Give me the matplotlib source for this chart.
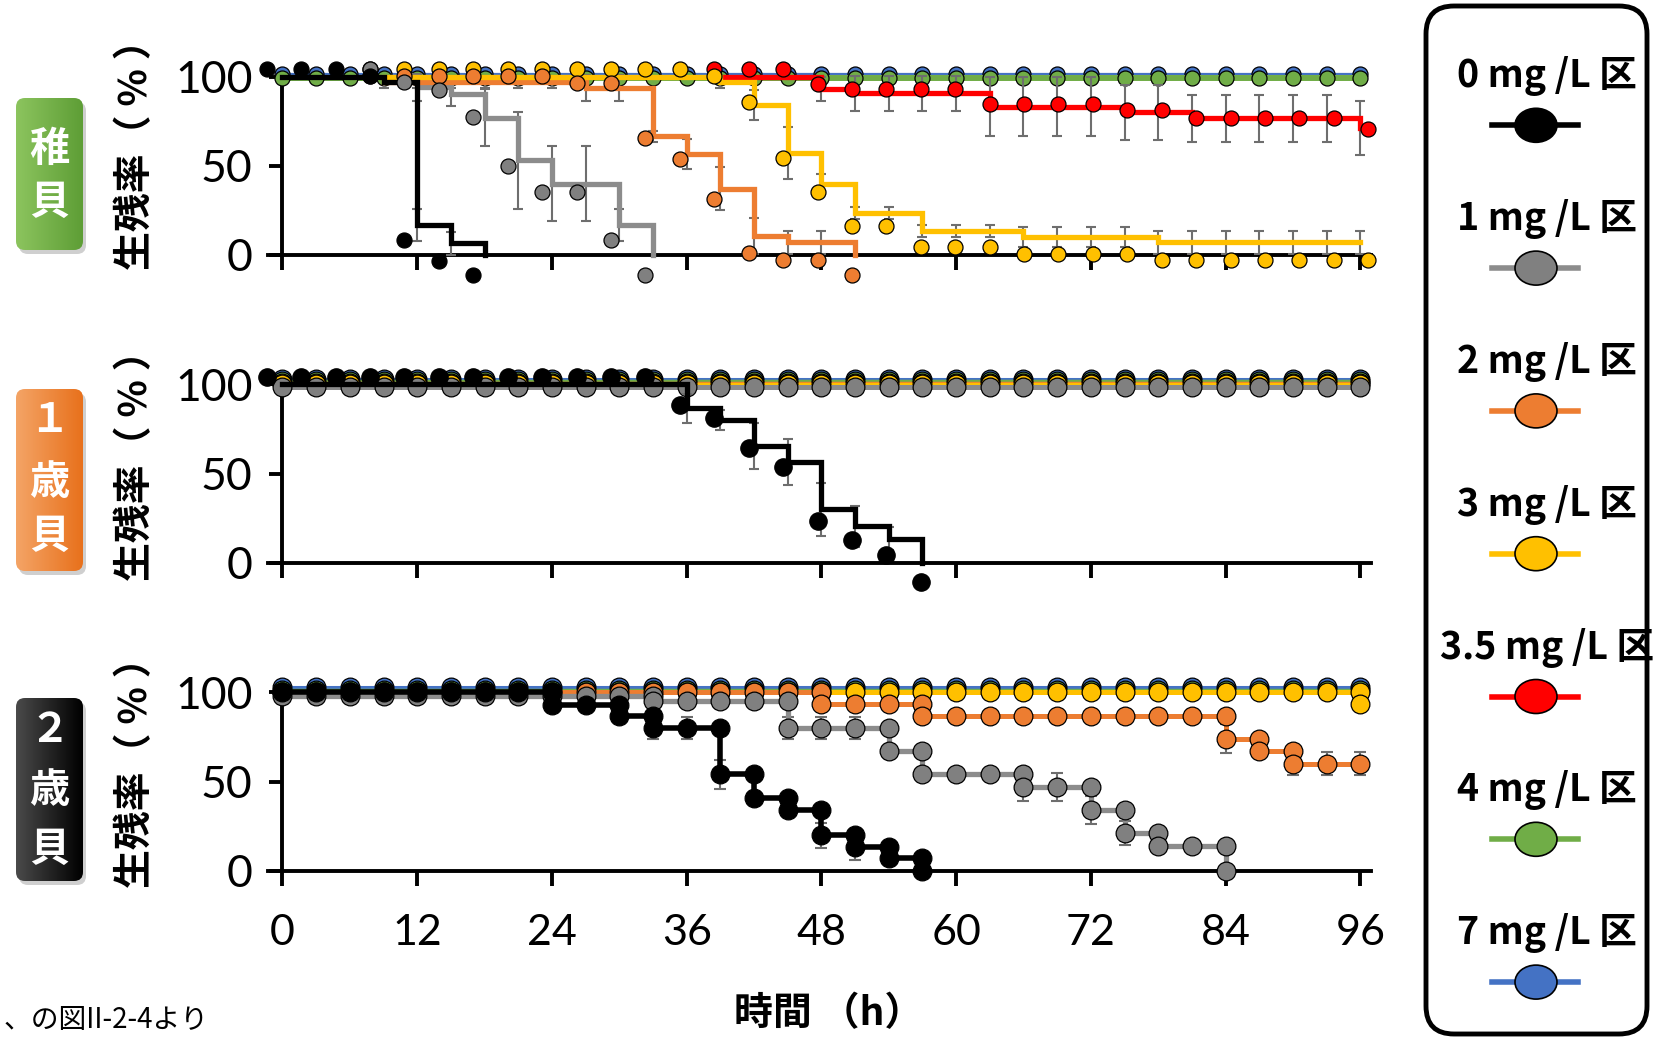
import numpy as np
import matplotlib.pyplot as plt
from matplotlib.patches import FancyBboxPatch, Ellipse
from matplotlib.colors import LinearSegmentedColormap

plt.rcParams['font.family'] = ['Noto Sans CJK JP', 'DejaVu Sans']

W, H = 1665, 1038

# ---------------------------------------------------------------- data
HOURS = [0, 3, 6, 9, 12, 15, 18, 21, 24, 27, 30, 33, 36, 39, 42, 45, 48,
         51, 54, 57, 60, 63, 66, 69, 72, 75, 78, 81, 84, 87, 90, 93, 96]
XTICKS = [0, 12, 24, 36, 48, 60, 72, 84, 96]
YTICKS = [0, 50, 100]

LEGEND_LABELS = ['0 mg /L 区', '1 mg /L 区', '2 mg /L 区', '3 mg /L 区',
                 '3.5 mg /L 区', '4 mg /L 区', '7 mg /L 区']
COLORS = ['#000000', '#808080', '#ED7D31', '#FFC000', '#FF0000', '#70AD47', '#4472C4']
LINE_COLORS = ['#000000', '#8C8C8C', '#ED7D31', '#FFC000', '#FF0000', '#70AD47', '#4472C4']
PANEL_NAMES = [['稚', '貝'], ['１', '歳', '貝'], ['２', '歳', '貝']]

# 稚貝 (step curves, mean survival % and sd)
JUV_0_T = [0, 3, 6, 9, 12, 15, 18]
JUV_0_V = [100, 100, 100, 97, 17, 6.5, 0]
JUV_0_SD = [0, 0, 0, 0, 9, 6.5, 0]
JUV_1_T = [9, 12, 15, 18, 21, 24, 27, 30, 33]
JUV_1_V = [100, 94, 90, 77, 53, 40, 40, 17, 0]
JUV_1_SD = [0, 7.5, 6.5, 16, 27, 21, 21, 9, 0]
JUV_2_T = [9, 12, 15, 18, 21, 24, 27, 30, 33, 36, 39, 42, 45, 48, 51]
JUV_2_V = [97, 97, 97, 97, 97, 97, 93.5, 93.5, 66.5, 56.5, 37, 10.5, 7, 7, 0]
JUV_2_SD = [3.5, 3.5, 3.5, 3.5, 3.5, 3.5, 7.5, 7.5, 3, 8.5, 12, 10, 6.5, 6.5, 0]
JUV_3_T = [9, 12, 15, 18, 21, 24, 27, 30, 33, 36, 39, 42, 45, 48, 51, 54, 57,
           60, 63, 66, 69, 72, 75, 78, 81, 84, 87, 90, 93, 96]
JUV_3_V = [100, 100, 100, 100, 100, 100, 100, 100, 100, 100, 97, 84, 57, 40,
           23.5, 23.5, 13.5, 13.5, 13.5, 10, 10, 10, 10, 7, 7, 7, 7, 7, 7, 7]
JUV_3_SD = [0, 0, 0, 0, 0, 0, 0, 0, 0, 0, 3.5, 8.5, 14.5, 5.5, 3.5, 3.5, 3.3,
            3.3, 3.3, 5.8, 5.8, 5.8, 5.8, 6.6, 6.6, 6.6, 6.6, 6.6, 6.6, 6.6]
JUV_35_T = [39, 42, 45, 48, 51, 54, 57, 60, 63, 66, 69, 72, 75, 78, 81, 84,
            87, 90, 93, 96]
JUV_35_V = [100, 100, 100, 93, 90.5, 90.5, 90.5, 90.5, 83, 83, 83, 83, 80, 80,
            76.5, 76.5, 76.5, 76.5, 76.5, 71]
JUV_35_SD = [0, 0, 0, 7, 10, 10, 10, 10, 16.5, 16.5, 16.5, 16.5, 15.5, 15.5,
             13, 13, 13, 13, 13, 15]
JUV_4_V = [99] * len(HOURS)
JUV_7_V = [101.5] * len(HOURS)

# 1歳貝
AGE1_0_T = [0, 3, 6, 9, 12, 15, 18, 21, 24, 27, 30, 33, 36, 39, 42, 45, 48, 51, 54, 57]
AGE1_0_V = [100, 100, 100, 100, 100, 100, 100, 100, 100, 100, 100, 100,
            86.5, 80, 65.5, 56.5, 30, 20.5, 13.5, 0]
AGE1_0_SD = [0, 0, 0, 0, 0, 0, 0, 0, 0, 0, 0, 0, 8, 5.5, 13, 13, 15, 11.5, 6.5, 0]
AGE1_1_V = [98.5] * len(HOURS)
AGE1_2_V = [101] * len(HOURS)
AGE1_3_V = [100] * len(HOURS)
AGE1_4_V = [102] * len(HOURS)
AGE1_7_V = [103] * len(HOURS)

# 2歳貝 (connected points, a drop is a repeated hour)
AGE2_0_T = [0, 3, 6, 9, 12, 15, 18, 21, 24, 24, 27, 30, 30, 33, 33, 36, 39, 39,
            42, 42, 45, 45, 48, 48, 51, 51, 54, 54, 57, 57]
AGE2_0_V = [100, 100, 100, 100, 100, 100, 100, 100, 100, 93, 93, 93, 87, 87, 80,
            80, 80, 54, 54, 41, 41, 34, 34, 20, 20, 13.5, 13.5, 7, 7, 0]
AGE2_0_SD = [0, 0, 0, 0, 0, 0, 0, 0, 0, 0, 0, 0, 0, 0, 6, 6, 0, 8, 0, 0, 0, 0,
             0, 7, 0, 7.5, 0, 0, 0, 0]
AGE2_1_T = [0, 3, 6, 9, 12, 15, 18, 21, 24, 27, 30, 33, 33, 36, 39, 42, 45, 45,
            48, 51, 54, 54, 57, 57, 60, 63, 66, 66, 69, 72, 72, 75, 75, 78, 78,
            81, 84, 84]
AGE2_1_V = [98, 98, 98, 98, 98, 98, 98, 98, 98, 98, 98, 98, 95, 95, 95, 95, 95,
            80, 80, 80, 80, 67, 67, 54, 54, 54, 54, 47, 47, 47, 34, 34, 21, 21,
            14, 14, 14, 0]
AGE2_1_SD = [0, 0, 0, 0, 0, 0, 0, 0, 0, 0, 0, 0, 0, 0, 0, 0, 0, 6.3, 6.3, 6.3,
             0, 0, 0, 0, 0, 0, 0, 8, 8, 0, 8, 0, 6.6, 0, 0, 0, 0, 0]
AGE2_2_T = [0, 3, 6, 9, 12, 15, 18, 21, 24, 27, 30, 33, 36, 39, 42, 45, 48, 48,
            51, 54, 57, 57, 60, 63, 66, 69, 72, 75, 78, 81, 84, 84, 87, 87, 90,
            90, 93, 96]
AGE2_2_V = [100, 100, 100, 100, 100, 100, 100, 100, 100, 100, 100, 100, 100,
            100, 100, 100, 100, 93.5, 93.5, 93.5, 93.5, 87, 87, 87, 87, 87, 87,
            87, 87, 87, 87, 74, 74, 67, 67, 60, 60, 60]
AGE2_2_SD = [0, 0, 0, 0, 0, 0, 0, 0, 0, 0, 0, 0, 0, 0, 0, 0, 0, 0, 0, 0, 0, 0,
             0, 0, 0, 0, 0, 0, 0, 0, 0, 8, 0, 0, 0, 6.5, 6.5, 6.5]
AGE2_3_T = HOURS + [96]
AGE2_3_V = [100] * len(HOURS) + [93.5]
AGE2_4_V = [101.5] * len(HOURS)
AGE2_7_V = [103] * len(HOURS)

# ---------------------------------------------------------------- layout
AX_X0, AX_X1 = 267.9, 1371.5          # pixels for x = -1.3 .. 97
PANEL_Y = [(76.5, 254.9), (384.4, 562.8), (692.4, 870.7)]
YLABEL_Y = [145, 456, 763]
BADGE_Y = [(98, 250), (389, 571), (698, 881)]
BADGE_CHAR_Y = [[149, 202], [421, 483, 536], [731, 791, 849]]
BADGE_COLORS = [('#8CC45E', '#5E9E36'), ('#F4A466', '#E8711C'), ('#4A4A4A', '#000000')]
# marker layer of the pasted figures is slightly shifted against the lines
MK_XS, MK_X0, MK_YS, MK_Y0 = 1.022, -1.4, 1.15, -11.0
ERR_C = '#6E6E6E'

fig = plt.figure(figsize=(W / 100, H / 100), dpi=100)


def rect(x0, y0, x1, y1):
    return [x0 / W, 1 - y1 / H, (x1 - x0) / W, (y1 - y0) / H]


def make_axes(i, show_xlabels):
    y0, y1 = PANEL_Y[i]
    ax = fig.add_axes(rect(AX_X0, y0, AX_X1, y1), zorder=2)
    ax.patch.set_alpha(0)
    ax.set_xlim(-1.3, 97)
    ax.set_ylim(0, 100)
    for s in ['top', 'right']:
        ax.spines[s].set_visible(False)
    ax.spines['left'].set_position(('data', 0))
    for s in ['left', 'bottom']:
        ax.spines[s].set_linewidth(2.8)
        ax.spines[s].set_zorder(1)
    ax.set_yticks(YTICKS, labels=[str(v) for v in YTICKS], fontfamily='Lato', fontsize=32)
    if show_xlabels:
        ax.set_xticks(XTICKS, labels=[str(v) for v in XTICKS],
                      fontfamily='Lato', fontsize=31)
    else:
        ax.set_xticks(XTICKS, labels=[])
    ax.tick_params(axis='y', direction='out', length=9.5, width=2.8, pad=12)
    ax.tick_params(axis='x', direction='out', length=11, width=2.8, pad=20)
    return ax


def marker_layer(ax):
    mx = fig.add_axes(ax.get_position().bounds, zorder=3)
    x0, x1 = ax.get_xlim()
    y0, y1 = ax.get_ylim()
    mx.set_xlim((x0 - MK_X0) / MK_XS, (x1 - MK_X0) / MK_XS)
    mx.set_ylim((y0 - MK_Y0) / MK_YS, (y1 - MK_Y0) / MK_YS)
    mx.axis('off')
    return mx


def errbars(ax, t, v, sd, capsize):
    t, v, sd = np.asarray(t, float), np.asarray(v, float), np.asarray(sd, float)
    m = sd > 0
    if not m.any():
        return
    eb = ax.errorbar(t[m], v[m], yerr=sd[m], fmt='none', ecolor=ERR_C,
                     elinewidth=1.5, capsize=capsize, capthick=1.5)
    for a in list(eb.lines[1]) + list(eb.lines[2]):
        a.set_clip_on(False)


def dots(ax, t, v, k, ms):
    ax.plot(t, v, linestyle='none', marker='o', ms=ms, mfc=COLORS[k],
            mec='black', mew=0.9, clip_on=False)


# ---------------------------------------------------------------- 稚貝
ax1 = make_axes(0, False)
for k, vals, lw in [(6, JUV_7_V, 1.6), (5, JUV_4_V, 4.3)]:
    ax1.plot(HOURS, vals, color=LINE_COLORS[k], lw=lw, clip_on=False)
    dots(ax1, HOURS, vals, k, 10.8)
juv = [(4, JUV_35_T, JUV_35_V, JUV_35_SD), (1, JUV_1_T, JUV_1_V, JUV_1_SD),
       (2, JUV_2_T, JUV_2_V, JUV_2_SD), (3, JUV_3_T, JUV_3_V, JUV_3_SD),
       (0, JUV_0_T, JUV_0_V, JUV_0_SD)]
for k, t, v, sd in juv:
    errbars(ax1, t, v, sd, 3.8)
for k, t, v, sd in juv:
    ax1.plot(t, v, drawstyle='steps-post', color=LINE_COLORS[k], lw=3.8,
             clip_on=False, solid_joinstyle='miter')
mk1 = marker_layer(ax1)
for k, t, v, sd in [juv[0], juv[3], juv[2], juv[1], juv[4]]:
    dots(mk1, t, v, k, 10.8)

# ---------------------------------------------------------------- 1歳貝
ax2 = make_axes(1, False)
for k, vals, lw in [(6, AGE1_7_V, 2.2), (5, AGE1_4_V, 2.5), (2, AGE1_2_V, 2.5),
                    (3, AGE1_3_V, 2.5), (1, AGE1_1_V, 3.6)]:
    ax2.plot(HOURS, vals, color=LINE_COLORS[k], lw=lw, clip_on=False)
    dots(ax2, HOURS, vals, k, 13.5)
errbars(ax2, AGE1_0_T, AGE1_0_V, AGE1_0_SD, 3.8)
ax2.plot(AGE1_0_T, AGE1_0_V, drawstyle='steps-post', color='black', lw=3.8,
         clip_on=False, solid_joinstyle='miter')
mk2 = marker_layer(ax2)
dots(mk2, AGE1_0_T, AGE1_0_V, 0, 12.5)

# ---------------------------------------------------------------- 2歳貝
ax3 = make_axes(2, True)
age2 = [(6, HOURS, AGE2_7_V, None, 2.2), (5, HOURS, AGE2_4_V, None, 2.5),
        (3, AGE2_3_T, AGE2_3_V, None, 3.6), (2, AGE2_2_T, AGE2_2_V, AGE2_2_SD, 3.6),
        (1, AGE2_1_T, AGE2_1_V, AGE2_1_SD, 3.8), (0, AGE2_0_T, AGE2_0_V, AGE2_0_SD, 4.0)]
for k, t, v, sd, lw in age2:
    if sd is not None:
        errbars(ax3, t, v, sd, 4.5)
    ax3.plot(t, v, color=LINE_COLORS[k], lw=lw, clip_on=False)
    dots(ax3, t, v, k, 13.5)

# ---------------------------------------------------------------- texts
for yc in YLABEL_Y:
    fig.text(136 / W, 1 - yc / H, '生残率（ % ）', rotation=90, fontsize=28,
             fontweight='bold', ha='center', va='center')
fig.text(829 / W, 1 - 1014 / H, '時間 （h）', fontsize=28, fontweight='bold',
         ha='center', va='center')
fig.text(4 / W, 1 - 1035 / H, '、の図II-2-4より', fontsize=20, ha='left', va='bottom')

# overlay in pixel coordinates for badges and legend box
ov = fig.add_axes([0, 0, 1, 1], zorder=1)
ov.set_xlim(0, W)
ov.set_ylim(H, 0)
ov.axis('off')

for (y0, y1), (cl, cr), chars, cys in zip(BADGE_Y, BADGE_COLORS, PANEL_NAMES, BADGE_CHAR_Y):
    x0, x1 = 16, 83
    ov.add_patch(FancyBboxPatch((x0 + 3, y0 + 4), x1 - x0, y1 - y0,
                                boxstyle='round,pad=0,rounding_size=9',
                                fc='#CFCFCF', ec='none', zorder=1))
    box = FancyBboxPatch((x0, y0), x1 - x0, y1 - y0,
                         boxstyle='round,pad=0,rounding_size=9', fc='none', ec='none')
    ov.add_patch(box)
    grad = np.linspace(0, 1, 64)[None, :]
    im = ov.imshow(grad, cmap=LinearSegmentedColormap.from_list('b', [cl, cr]),
                   extent=(x0, x1, y1, y0), aspect='auto', interpolation='bilinear',
                   zorder=2)
    im.set_clip_path(box)
    for ch, cy in zip(chars, cys):
        ov.text((x0 + x1) / 2, cy, ch, color='white', fontsize=29,
                fontweight='bold', ha='center', va='center', zorder=3)

# legend
ov.add_patch(FancyBboxPatch((1426, 6), 221, 1028, boxstyle='round,pad=0,rounding_size=28',
                            fc='white', ec='black', lw=3.5, zorder=1))
for i, (lab, c, lc) in enumerate(zip(LEGEND_LABELS, COLORS, LINE_COLORS)):
    ty = 76.5 + 142.8 * i
    my = 125.3 + 142.8 * i
    ov.text(1547, ty, lab, fontsize=27, fontweight='bold', ha='center', va='center',
            zorder=4)
    ov.plot([1492, 1578], [my, my], color=lc, lw=4, zorder=2)
    ov.add_patch(Ellipse((1536, my), 42, 34, fc=c, ec='black', lw=1.2, zorder=3))

ov.set_xlim(0, W)
ov.set_ylim(H, 0)

fig.savefig('out.png', dpi=100)
